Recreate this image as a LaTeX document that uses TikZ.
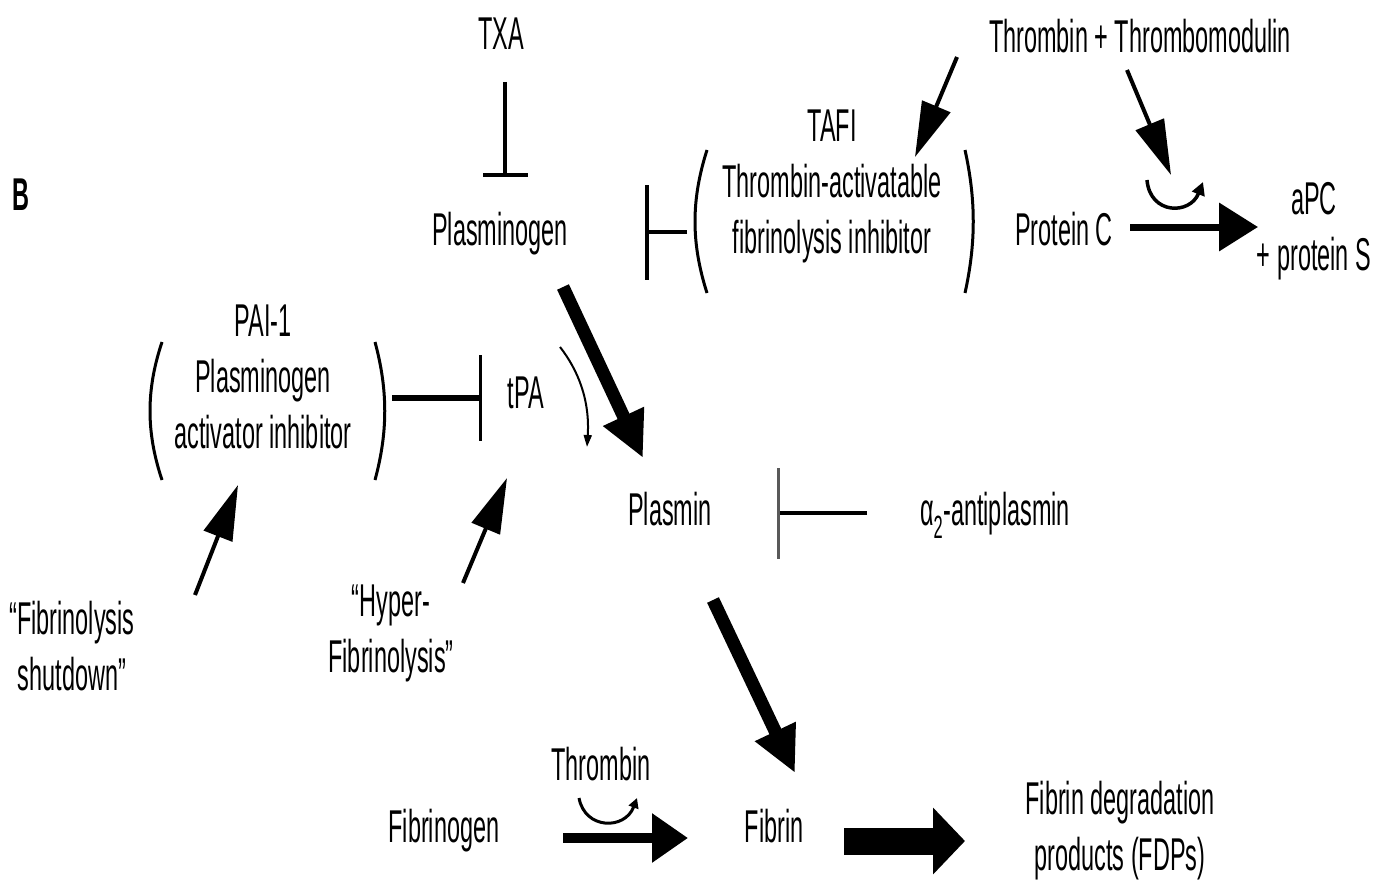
\documentclass[tikz,border=0pt]{standalone}
\usepackage{fontspec}
\setmainfont{Liberation Sans}[FakeStretch=0.51]
\usetikzlibrary{arrows.meta}
\begin{document}
\begin{tikzpicture}[x=1pt,y=-1pt,
  lbl/.style={inner sep=0pt, anchor=base, align=center, font=\fontsize{46}{56}\selectfont},
  paren/.style={line width=3pt},
  thinarr/.style={line width=4pt, -{Triangle[length=55pt,width=30pt]}},
  fatarr/.style={line width=13pt, -{Triangle[length=46pt,width=42pt]}},
  catal/.style={line width=3.5pt, -{Triangle[length=13pt,width=13pt]}}
]
\useasboundingbox (0,0) rectangle (1376,880);

% labels (multi-line nodes are placed at the baseline of their last line)
\node[lbl,font=\fontsize{46}{56}\selectfont\bfseries] (B) at (21,210) {B};
\node[lbl] (TXA) at (501,50) {TXA};
\node[lbl] (plg) at (500,245) {Plasminogen};
\node[lbl] (tafi) at (832,253) {TAFI\\Thrombin-activatable\\fibrinolysis inhibitor};
\node[lbl] (ttm) at (1140,53) {Thrombin + Thrombomodulin};
\node[lbl] (pc) at (1064,245) {Protein C};
\node[lbl] (apc) at (1314,270) {aPC\\+ protein S};
\node[lbl] (pai) at (263,448) {PAI-1\\Plasminogen\\activator inhibitor};
\node[lbl] (tpa) at (526,408) {tPA};
\node[lbl] (plm) at (670,525) {Plasmin};
\node[lbl] (a2ap) at (995,525) {α\textsubscript{2}-antiplasmin};
\node[lbl] (shut) at (72,690) {“Fibrinolysis\\shutdown”};
\node[lbl] (hyper) at (391,672) {“Hyper-\\Fibrinolysis”};
\node[lbl] (thr) at (601,780) {Thrombin};
\node[lbl] (fbg) at (444,842) {Fibrinogen};
\node[lbl] (fbn) at (774,842) {Fibrin};
\node[lbl] (fdp) at (1120,870) {Fibrin degradation\\products (FDPs)};

% parentheses
\draw[paren] (162,342) .. controls (146,390) and (146,432) .. (162,480);
\draw[paren] (375,342) .. controls (388,390) and (388,432) .. (375,480);
\draw[paren] (707,150) .. controls (691,200) and (691,243) .. (707,293);
\draw[paren] (965,150) .. controls (976,200) and (976,243) .. (965,293);

% inhibitions
\draw[line width=3.5pt, -{Bar[width=45pt,line width=4pt]}] ([shift={(4,32)}]TXA.base) -- ([shift={(5,-68)}]plg.base);
\draw[line width=3.5pt, -{Bar[width=95pt,line width=3.5pt]}] ([shift={(-145,-21)}]tafi.base) -- ([shift={(145,-13)}]plg.base);
\draw[line width=6pt, -{Bar[width=86pt,line width=3.5pt]}] ([shift={(129,-50)}]pai.base) -- ([shift={(-44,-10)}]tpa.base);
\draw[line width=4pt, -{Bar[width=91pt,line width=2.5pt,color=black!65]}] ([shift={(-128,-12)}]a2ap.base) -- ([shift={(107,-12)}]plm.base);

% activations
\draw[thinarr] ([shift={(-183,4)}]ttm.base) -- ([shift={(83,-96)}]tafi.base);
\draw[thinarr] ([shift={(-13,17)}]ttm.base) -- ([shift={(107,-70)}]pc.base);
\draw[catal] ([shift={(83,-65)}]pc.base) .. controls +(3,35) and +(-13,33) .. ([shift={(139,-63)}]pc.base);
\draw[line width=7pt, -{Triangle[length=39pt,width=47pt]}] ([shift={(66,-18)}]pc.base) -- ([shift={(-56,-43)}]apc.base);
\draw[fatarr] ([shift={(63,42)}]plg.base) -- ([shift={(-27,-67)}]plm.base);
\draw[line width=2pt, -{Triangle[length=12pt,width=8pt]}] ([shift={(34,-61)}]tpa.base) .. controls +(18,23) and +(3,-47) .. ([shift={(-83,-78)}]plm.base);
\draw[thinarr] ([shift={(123,-95)}]shut.base) -- ([shift={(-25,37)}]pai.base);
\draw[thinarr] ([shift={(72,-89)}]hyper.base) -- ([shift={(-19,70)}]tpa.base);
\draw[fatarr] ([shift={(43,75)}]plm.base) -- ([shift={(21,-69)}]fbn.base);
\draw[line width=10pt, -{Triangle[length=36pt,width=47pt]}] ([shift={(119,-4)}]fbg.base) -- ([shift={(-86,-4)}]fbn.base);
\draw[line width=3pt, -{Triangle[length=10pt,width=10pt]}] ([shift={(-22,18)}]thr.base) .. controls +(6,32) and +(-12,32) .. ([shift={(36,18)}]thr.base);
\draw[line width=27pt, -{Triangle[length=32pt,width=65pt]}] ([shift={(70,-1)}]fbn.base) -- ([shift={(-155,-29)}]fdp.base);
\end{tikzpicture}
\end{document}
